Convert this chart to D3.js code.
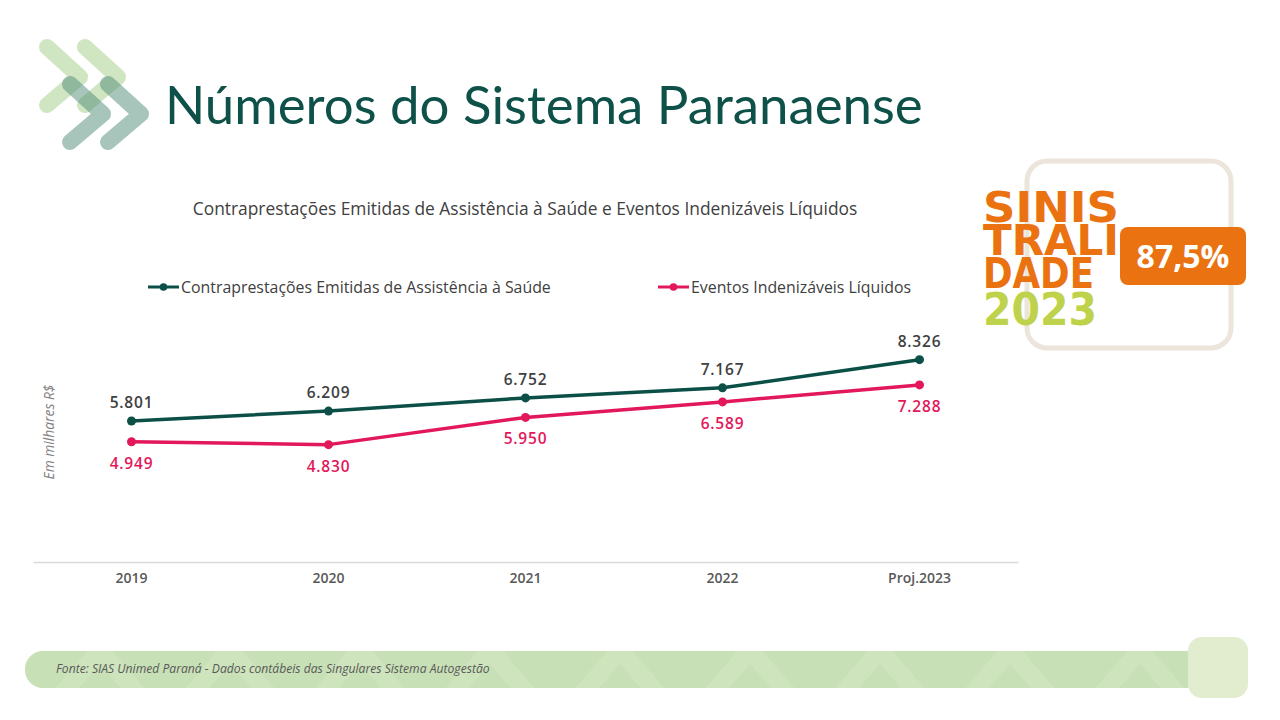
<!DOCTYPE html>
<html>
<head>
<meta charset="utf-8">
<script src="https://cdn.jsdelivr.net/npm/d3@7"></script>
<style>
  html, body { margin: 0; padding: 0; background: #fff; }
  svg { display: block; }
</style>
</head>
<body>
<svg id="chart" width="1280" height="720"></svg>
<script>
// chart values
const years = ["2019", "2020", "2021", "2022", "Proj.2023"];
const contraprestacoes = [5801, 6209, 6752, 7167, 8326];
const eventos = [4949, 4830, 5950, 6589, 7288];
const seriesNames = ["Contraprestações Emitidas de Assistência à Saúde", "Eventos Indenizáveis Líquidos"];
const sinistralidade = "87,5%";

const GREEN = "#0b4f47", RED = "#e2185a", GREY = "#404040";
const fmt = v => d3.format(",")(v).replace(/,/g, ".");

const svg = d3.select("#chart");

// fit a text element to a target width by adjusting font size
function fitWidth(sel, w) {
  const n = sel.node();
  const cur = n.getComputedTextLength();
  const fs = parseFloat(sel.attr("font-size"));
  sel.attr("font-size", (fs * w / cur).toFixed(2));
}

// ---------- logo chevrons ----------
const logo = svg.append("g").attr("fill", "none").attr("stroke-linecap", "round").attr("stroke-linejoin", "round").attr("stroke-width", 16);
const chev = (x, y) => `M${x},${y} L${x + 33},${y + 30} L${x},${y + 58}`;
logo.append("path").attr("d", chev(47, 47)).attr("stroke", "#a9d08e").attr("stroke-opacity", 0.55);
logo.append("path").attr("d", chev(85, 47)).attr("stroke", "#a9d08e").attr("stroke-opacity", 0.55);
logo.append("path").attr("d", chev(70, 84)).attr("stroke", "#4f8c78").attr("stroke-opacity", 0.5);
logo.append("path").attr("d", chev(108, 84)).attr("stroke", "#4f8c78").attr("stroke-opacity", 0.5);

// ---------- page title ----------
const title = svg.append("text")
  .attr("x", 165).attr("y", 124)
  .attr("font-family", "Lato, 'Open Sans', sans-serif")
  .attr("font-size", 50).attr("fill", "#0d5149")
  .text("Números do Sistema Paranaense");
fitWidth(title, 758);

// ---------- chart ----------
const x = d3.scaleBand().domain(years).range([33, 1018]);
const y = d3.scaleLinear().domain([0, 10000]).range([562, 319]);
const cx = d => x(d) + x.bandwidth() / 2;

const chartTitle = svg.append("text")
  .attr("x", 525).attr("y", 215).attr("text-anchor", "middle")
  .attr("font-family", "'Open Sans', sans-serif").attr("font-size", 15)
  .attr("fill", GREY).text("Contraprestações Emitidas de Assistência à Saúde e Eventos Indenizáveis Líquidos");
fitWidth(chartTitle, 665);

// legend
const legendItems = [
  { name: seriesNames[0], color: GREEN, x: 148, w: 370 },
  { name: seriesNames[1], color: RED, x: 658, w: 220 }
];
legendItems.forEach(it => {
  const g = svg.append("g").attr("transform", `translate(${it.x},287)`);
  g.append("line").attr("x1", 0).attr("x2", 31).attr("stroke", it.color).attr("stroke-width", 3);
  g.append("circle").attr("cx", 15.5).attr("r", 3.8).attr("fill", it.color);
  const t = g.append("text").attr("x", 33).attr("y", 5.5)
    .attr("font-family", "'Open Sans', sans-serif").attr("font-size", 15)
    .attr("fill", GREY).text(it.name);
  fitWidth(t, it.w);
});

// y label
const yLab = svg.append("text")
  .attr("transform", "translate(54,432) rotate(-90)")
  .attr("text-anchor", "middle")
  .attr("font-family", "'Open Sans', sans-serif").attr("font-style", "italic")
  .attr("font-size", 14).attr("fill", "#7f7f7f")
  .text("Em milhares R$");
fitWidth(yLab, 95);

// x axis
const xAxis = svg.append("g").attr("transform", "translate(0,562)")
  .call(d3.axisBottom(x).tickSize(0).tickPadding(11));
xAxis.select(".domain").attr("stroke", "#d9d9d9").attr("stroke-width", 1.3);
xAxis.selectAll("text")
  .attr("font-family", "'Open Sans', sans-serif").attr("font-size", 14)
  .attr("font-weight", 600).attr("fill", "#595959");

const line = d3.line().x((d, i) => cx(years[i])).y(d => y(d));
const series = [
  { vals: contraprestacoes, color: GREEN, labelColor: GREY, dy: -13 },
  { vals: eventos, color: RED, labelColor: RED, dy: 27 }
];
series.forEach(s => {
  svg.append("path").datum(s.vals).attr("d", line)
    .attr("fill", "none").attr("stroke", s.color).attr("stroke-width", 3.5)
    .attr("stroke-linejoin", "round");
  svg.selectAll(null).data(s.vals).enter().append("circle")
    .attr("cx", (d, i) => cx(years[i])).attr("cy", d => y(d))
    .attr("r", 4.5).attr("fill", s.color);
  svg.selectAll(null).data(s.vals).enter().append("text")
    .attr("x", (d, i) => cx(years[i])).attr("y", d => y(d) + s.dy)
    .attr("text-anchor", "middle")
    .attr("font-family", "'Open Sans', sans-serif").attr("font-size", 15.5)
    .attr("font-weight", 600).attr("letter-spacing", 0.8)
    .attr("fill", s.labelColor).text(d => fmt(d));
});

// ---------- sinistralidade badge ----------
svg.append("rect").attr("x", 1027).attr("y", 161).attr("width", 204).attr("height", 187)
  .attr("rx", 20).attr("fill", "#fff").attr("stroke", "#ebe5dc").attr("stroke-width", 5);

// the stacked word is one text block, one line per tspan
const sin = svg.append("text")
  .attr("font-family", "'DejaVu Sans Condensed', 'DejaVu Sans', sans-serif")
  .attr("font-weight", "bold").attr("font-size", 42);
[["SINIS", 222, 136, "#ea7211"], ["TRALI", 255, 136, "#ea7211"], ["DADE", 288, 111, "#ea7211"], ["2023", 325, 114, "#bfd24c"]]
  .forEach(([t, yy, w, c]) => {
    sin.append("tspan").attr("x", 983).attr("y", yy).attr("fill", c)
      .attr("font-size", t === "2023" ? 44 : 42)
      .attr("textLength", w).attr("lengthAdjust", "spacingAndGlyphs").text(t);
  });

svg.append("rect").attr("x", 1120).attr("y", 227).attr("width", 126).attr("height", 58)
  .attr("rx", 8).attr("fill", "#ea7211");
svg.append("text").attr("x", 1183).attr("y", 268).attr("text-anchor", "middle")
  .attr("font-family", "'Open Sans', sans-serif").attr("font-weight", "bold")
  .attr("font-size", 32).attr("fill", "#fff").text(sinistralidade);

// ---------- footer band ----------
const defs = svg.append("defs");
defs.append("clipPath").attr("id", "bandClip").append("rect")
  .attr("x", 25).attr("y", 651).attr("width", 1190).attr("height", 37).attr("rx", 18);
const band = svg.append("g").attr("clip-path", "url(#bandClip)");
band.append("rect").attr("x", 25).attr("y", 651).attr("width", 1190).attr("height", 37).attr("fill", "#c8e0b6");
const pat = band.append("g").attr("fill", "none").attr("stroke", "#d3e7c3").attr("stroke-width", 18).attr("stroke-opacity", 0.55);
d3.range(0, 10).forEach(i => {
  const bx = 40 + i * 130;
  pat.append("path").attr("d", `M${bx},720 L${bx + 60},650 L${bx + 120},720`);
});
svg.append("rect").attr("x", 1188).attr("y", 637).attr("width", 60).attr("height", 61)
  .attr("rx", 14).attr("fill", "#e2edd0");
const foot = svg.append("text").attr("x", 56).attr("y", 673)
  .attr("font-family", "'Open Sans', sans-serif").attr("font-style", "italic")
  .attr("font-size", 10.5).attr("fill", "#595959")
  .text("Fonte:  SIAS Unimed Paraná - Dados contábeis das Singulares Sistema Autogestão");
fitWidth(foot, 434);
</script>
</body>
</html>
